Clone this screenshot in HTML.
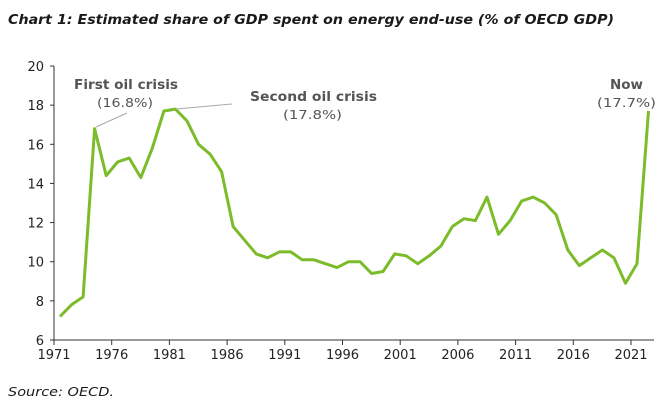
<!DOCTYPE html>
<html><head><meta charset="utf-8"><style>
body{margin:0;background:#fff}
svg{display:block;font-family:"DejaVu Sans","Liberation Sans",sans-serif}
</style></head><body>
<svg id="chart" width="660" height="405" viewBox="0 0 660 405">
<text x="8" y="24" font-size="13" font-weight="bold" font-style="italic" fill="#1a1a1a" textLength="606" lengthAdjust="spacingAndGlyphs">Chart 1: Estimated share of GDP spent on energy end-use (% of OECD GDP)</text>
<g id="axes"></g>
<g id="series"></g>
<line x1="96" y1="127" x2="127" y2="113" stroke="#aaa" stroke-width="1"/>
<line x1="176" y1="109" x2="232" y2="104" stroke="#aaa" stroke-width="1"/>
<text x="74" y="89" font-size="13" font-weight="bold" fill="#555" textLength="104" lengthAdjust="spacingAndGlyphs">First oil crisis</text>
<text x="97" y="107" font-size="12.5" fill="#555" textLength="56" lengthAdjust="spacingAndGlyphs">(16.8%)</text>
<text x="250" y="101" font-size="13" font-weight="bold" fill="#555" textLength="127" lengthAdjust="spacingAndGlyphs">Second oil crisis</text>
<text x="283" y="119" font-size="12.5" fill="#555" textLength="59" lengthAdjust="spacingAndGlyphs">(17.8%)</text>
<text x="610" y="89" font-size="13" font-weight="bold" fill="#555" textLength="33" lengthAdjust="spacingAndGlyphs">Now</text>
<text x="597" y="107" font-size="12.5" fill="#555" textLength="59" lengthAdjust="spacingAndGlyphs">(17.7%)</text>
<text x="8" y="396" font-size="12.5" font-style="italic" fill="#1a1a1a" textLength="106" lengthAdjust="spacingAndGlyphs">Source: OECD.</text>
</svg>
<script>
const years = [];
for (let y = 1971; y <= 2022; y++) years.push(y);
const shareValues = [7.2,7.8,8.2,16.8,14.4,15.1,15.3,14.3,15.8,17.7,17.8,17.2,16.0,15.5,14.6,11.8,11.1,10.4,10.2,10.5,10.5,10.1,10.1,9.9,9.7,10.0,10.0,9.4,9.5,10.4,10.3,9.9,10.3,10.8,11.8,12.2,12.1,13.3,11.4,12.1,13.1,13.3,13.0,12.4,10.6,9.8,10.2,10.6,10.2,8.9,9.9,17.7];
const yTicks = [6,8,10,12,14,16,18,20];
const xTicks = [1971,1976,1981,1986,1991,1996,2001,2006,2011,2016,2021];

const NS = "http://www.w3.org/2000/svg";
const x = v => 54 + (v - 1971) * 11.54;
const xData = v => x(v) + 6;
const y = v => 340 - (v - 6) * 19.57;
const axes = document.getElementById('axes');
const series = document.getElementById('series');
function mk(tag, attrs, parent) {
  const e = document.createElementNS(NS, tag);
  for (const k in attrs) e.setAttribute(k, attrs[k]);
  parent.appendChild(e);
  return e;
}
const ya = mk('line', {x1:54, y1:y(20), x2:54, y2:340, stroke:'#333', 'stroke-width':1}, axes);


const xa = mk('line', {x1:54, y1:340, x2:654, y2:340, stroke:'#333', 'stroke-width':1}, axes);


yTicks.forEach(t => {
  const tk = mk('line', {x1:50, y1:y(t), x2:54, y2:y(t), stroke:'#333'}, axes);
  
  
  const lb = mk('text', {x:44, y:y(t)+5, 'text-anchor':'end', 'font-size':13, fill:'#222'}, axes);
  lb.textContent = t;
  
  
});
xTicks.forEach(t => {
  const tk = mk('line', {x1:x(t), y1:340, x2:x(t), y2:345, stroke:'#333'}, axes);
  
  
  const lb = mk('text', {x:x(t), y:359, 'text-anchor':'middle', 'font-size':13, fill:'#222'}, axes);
  lb.textContent = t;
  
  
});
const pts = years.map((yr, i) => xData(yr).toFixed(1) + ',' + y(shareValues[i]).toFixed(1)).join(' ');
const line = mk('polyline', {points:pts, fill:'none', stroke:'#7cbb2a', 'stroke-width':3, 'stroke-linejoin':'round'}, series);


</script>
</body></html>
